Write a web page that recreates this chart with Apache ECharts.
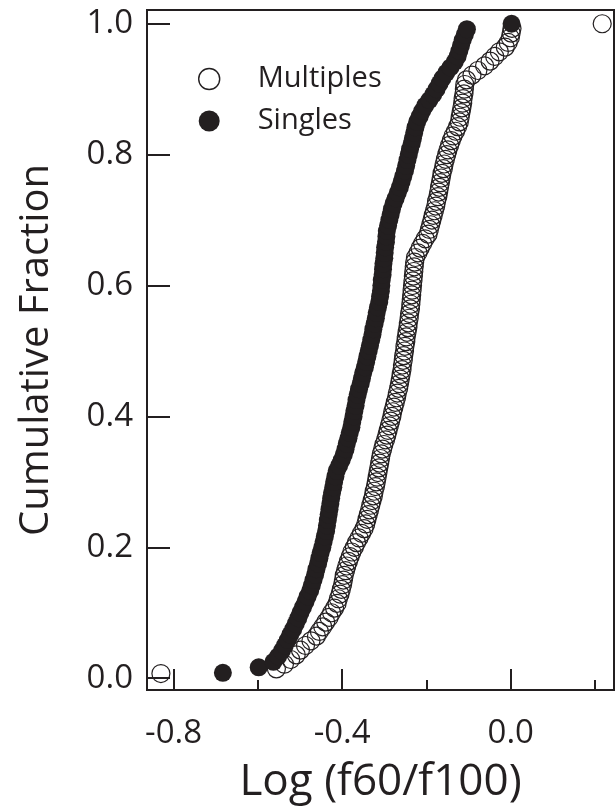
<!DOCTYPE html>
<html>
<head>
<meta charset="utf-8">
<script src="https://cdn.jsdelivr.net/npm/echarts@6/dist/echarts.min.js"></script>
<style>
  html, body { margin: 0; padding: 0; background: #fff; }
  #chart { width: 615px; height: 809px; }
</style>
</head>
<body>
<div id="chart"></div>
<script>
// Sorted Log (f60/f100) values for each sample; the cumulative fraction of each
// point is its rank divided by the sample size.
const multiples = [
  -0.830, -0.556, -0.537, -0.522, -0.509, -0.499, -0.487, -0.474, -0.461, -0.454,
  -0.446, -0.439, -0.431, -0.425, -0.418, -0.412, -0.409, -0.405, -0.402, -0.399,
  -0.397, -0.395, -0.392, -0.389, -0.385, -0.381, -0.377, -0.371, -0.366, -0.360,
  -0.354, -0.348, -0.344, -0.341, -0.338, -0.335, -0.332, -0.329, -0.326, -0.324,
  -0.321, -0.319, -0.317, -0.315, -0.313, -0.311, -0.309, -0.307, -0.304, -0.301,
  -0.297, -0.294, -0.291, -0.288, -0.285, -0.282, -0.280, -0.277, -0.274, -0.271,
  -0.269, -0.266, -0.264, -0.262, -0.260, -0.258, -0.257, -0.255, -0.254, -0.252,
  -0.251, -0.249, -0.248, -0.246, -0.244, -0.243, -0.241, -0.240, -0.238, -0.237,
  -0.236, -0.235, -0.234, -0.233, -0.232, -0.231, -0.230, -0.229, -0.228, -0.226,
  -0.220, -0.215, -0.209, -0.203, -0.196, -0.193, -0.190, -0.187, -0.184, -0.181,
  -0.178, -0.176, -0.173, -0.171, -0.169, -0.167, -0.165, -0.163, -0.160, -0.158,
  -0.155, -0.152, -0.149, -0.145, -0.141, -0.137, -0.131, -0.126, -0.122, -0.120,
  -0.118, -0.116, -0.114, -0.113, -0.111, -0.110, -0.109, -0.105, -0.092, -0.078,
  -0.062, -0.049, -0.038, -0.027, -0.013, -0.006, -0.001, 0.001, 0.003, 0.217
];

const singles = [
  -0.683, -0.598, -0.563, -0.552, -0.543, -0.536, -0.529, -0.523, -0.516, -0.510,
  -0.504, -0.499, -0.493, -0.487, -0.482, -0.476, -0.472, -0.468, -0.464, -0.461,
  -0.457, -0.454, -0.451, -0.447, -0.444, -0.441, -0.438, -0.436, -0.434, -0.432,
  -0.430, -0.428, -0.426, -0.424, -0.421, -0.419, -0.416, -0.413, -0.407, -0.401,
  -0.396, -0.392, -0.389, -0.385, -0.382, -0.378, -0.376, -0.373, -0.371, -0.368,
  -0.366, -0.363, -0.360, -0.356, -0.353, -0.350, -0.346, -0.343, -0.340, -0.337,
  -0.334, -0.331, -0.328, -0.326, -0.323, -0.320, -0.318, -0.315, -0.312, -0.310,
  -0.308, -0.307, -0.306, -0.304, -0.303, -0.302, -0.300, -0.299, -0.298, -0.296,
  -0.295, -0.294, -0.291, -0.288, -0.285, -0.282, -0.278, -0.273, -0.268, -0.263,
  -0.259, -0.255, -0.251, -0.248, -0.245, -0.242, -0.239, -0.235, -0.232, -0.229,
  -0.226, -0.222, -0.216, -0.210, -0.203, -0.193, -0.184, -0.176, -0.169, -0.162,
  -0.153, -0.143, -0.133, -0.126, -0.122, -0.118, -0.114, -0.109, -0.104, 0.002
];

const xMajorTicks = [-0.8, -0.4, 0.0];
const xMinorTicks = [-0.6, -0.2, 0.2];
const yTicks = [0.0, 0.2, 0.4, 0.6, 0.8, 1.0];

const ink = '#231f20';
const font = '"Open Sans", "DejaVu Sans", sans-serif';

// Empirical cumulative distribution: [value, rank / n]
function cumulative(values) {
  const n = values.length;
  return values.map((v, i) => [v, (i + 1) / n]);
}

const chart = echarts.init(document.getElementById('chart'), null, { renderer: 'canvas' });

const X_MIN = -0.863, X_MAX = 0.245;
const Y_MIN = -0.018, Y_MAX = 1.021;

chart.setOption({
  animation: false,
  backgroundColor: '#fff',
  textStyle: { fontFamily: font, color: ink },
  grid: {
    left: 147, top: 10, width: 467, height: 690,
    show: true, borderWidth: 2, borderColor: ink, backgroundColor: 'transparent'
  },
  legend: {
    orient: 'vertical',
    left: 193, top: 59,
    itemWidth: 21, itemHeight: 21,
    itemGap: 12,
    selectedMode: false,
    textStyle: { fontFamily: font, fontSize: 29, color: ink, lineHeight: 30, padding: [0, 0, 0, 33] },
    data: [
      { name: 'Multiples', icon: 'circle', itemStyle: { color: 'rgba(0,0,0,0)', borderColor: ink, borderWidth: 1.4, opacity: 1 } },
      { name: 'Singles', icon: 'circle', itemStyle: { color: ink, borderWidth: 0, opacity: 1 } }
    ]
  },
  xAxis: [
    {
      type: 'value', min: X_MIN, max: X_MAX, position: 'bottom',
      name: 'Log (f60/f100)', nameLocation: 'middle', nameGap: 70,
      nameTextStyle: { fontFamily: font, fontSize: 44, color: ink },
      axisLine: { show: true, onZero: false, lineStyle: { color: ink, width: 2 } },
      axisTick: { show: true, inside: true, length: 21, customValues: xMajorTicks, lineStyle: { color: ink, width: 2 } },
      axisLabel: {
        show: true, customValues: xMajorTicks, margin: 27,
        fontFamily: font, fontSize: 33, color: ink,
        formatter: v => v.toFixed(1)
      },
      splitLine: { show: false }
    },
    {
      type: 'value', min: X_MIN, max: X_MAX, position: 'bottom',
      axisLine: { show: false, onZero: false },
      axisTick: { show: true, inside: true, length: 10, customValues: xMinorTicks, lineStyle: { color: ink, width: 2 } },
      axisLabel: { show: false },
      splitLine: { show: false }
    }
  ],
  yAxis: [
    {
      type: 'value', min: Y_MIN, max: Y_MAX, position: 'left',
      name: 'Cumulative Fraction', nameLocation: 'middle', nameGap: 90, nameRotate: 90,
      nameTextStyle: { fontFamily: font, fontSize: 40, color: ink },
      axisLine: { show: true, onZero: false, lineStyle: { color: ink, width: 2 } },
      axisTick: { show: true, inside: true, length: 23, customValues: yTicks, lineStyle: { color: ink, width: 2 } },
      axisLabel: {
        show: true, customValues: yTicks, margin: 14,
        fontFamily: font, fontSize: 33, color: ink,
        formatter: v => v.toFixed(1)
      },
      splitLine: { show: false }
    }
  ],
  series: [
    {
      name: 'Multiples', type: 'scatter', xAxisIndex: 0, yAxisIndex: 0,
      data: cumulative(multiples),
      symbol: 'circle', symbolSize: 18, clip: false,
      itemStyle: { color: 'rgba(0,0,0,0)', borderColor: ink, borderWidth: 1.2, opacity: 1 },
      emphasis: { disabled: true }, z: 2
    },
    {
      name: 'Singles', type: 'scatter', xAxisIndex: 0, yAxisIndex: 0,
      data: cumulative(singles),
      symbol: 'circle', symbolSize: 18, clip: false,
      itemStyle: { color: ink, borderWidth: 0, opacity: 1 },
      emphasis: { disabled: true }, z: 3
    }
  ]
});
</script>
</body>
</html>
